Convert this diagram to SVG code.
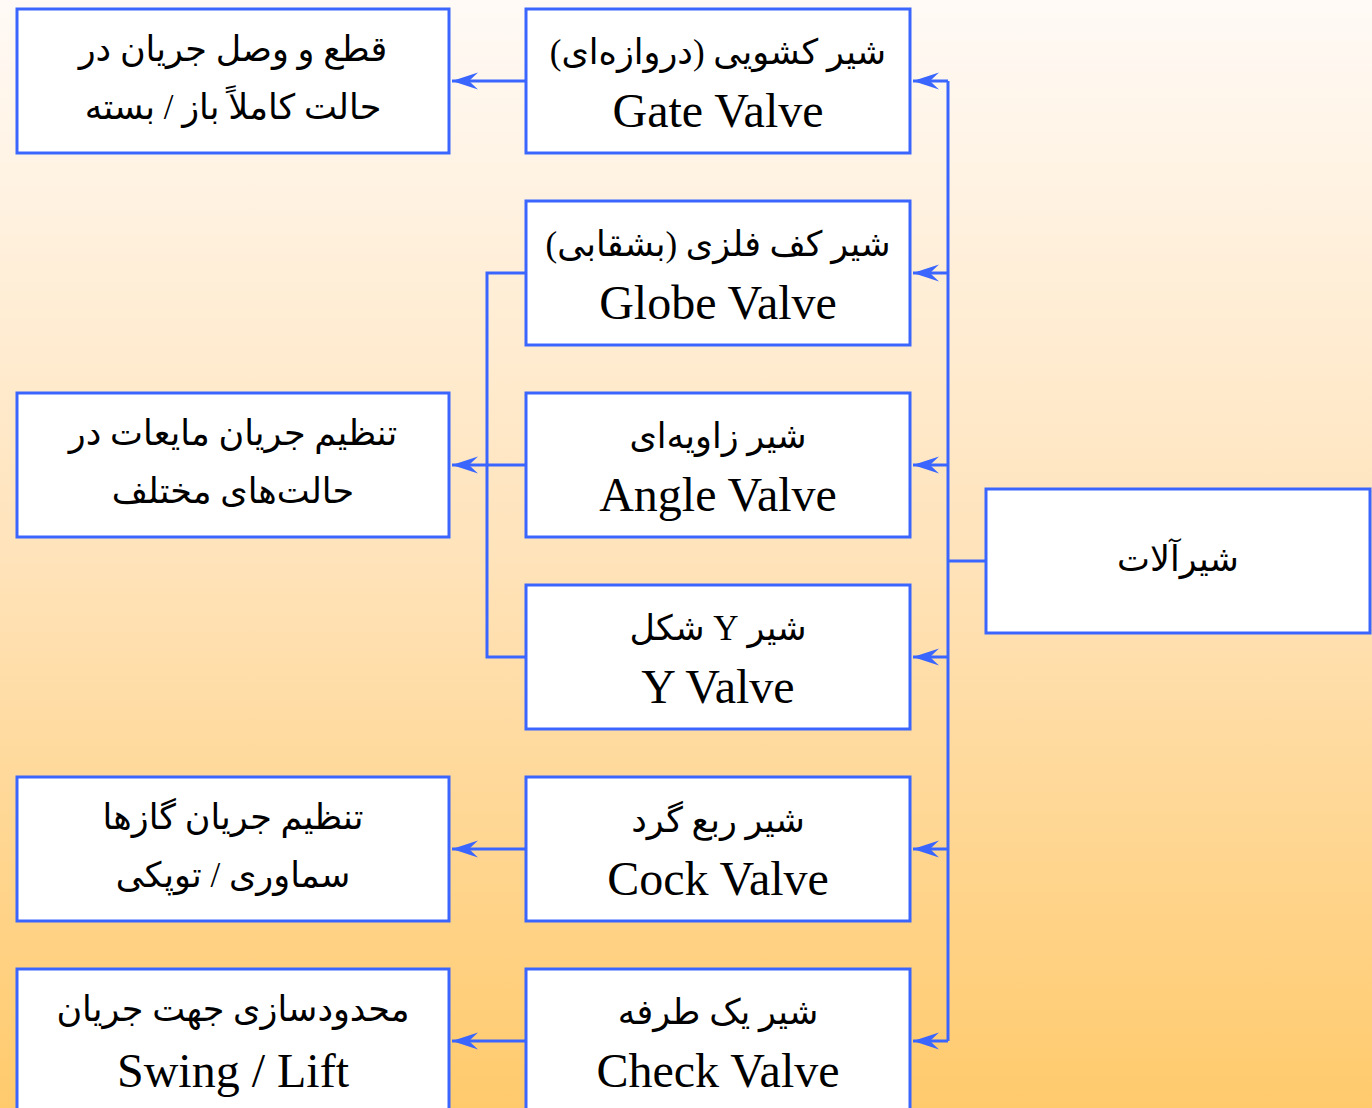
<svg xmlns="http://www.w3.org/2000/svg" width="1372" height="1108" viewBox="0 0 1372 1108">
<defs>
<linearGradient id="bg" x1="0" y1="0" x2="0" y2="1">
<stop offset="0" stop-color="#FFFAF6"/>
<stop offset="0.5" stop-color="#FFE3BA"/>
<stop offset="1" stop-color="#FFCA6C"/>
</linearGradient>
<marker id="ah" viewBox="0 -10 28 20" refX="26" refY="0" markerWidth="28" markerHeight="20" markerUnits="userSpaceOnUse" orient="auto">
<path d="M0,-8.5 L26,0 L0,8.5 L9,0 Z" fill="#3A66FF"/>
</marker>
<style>
.box{fill:#FFFFFF;stroke:#3A66FF;stroke-width:3}
.con{fill:none;stroke:#3A66FF;stroke-width:3}
.fa{font-family:"Liberation Serif","DejaVu Serif","DejaVu Sans",serif;font-size:35px;fill:#000;text-anchor:middle;direction:rtl}
.en{font-family:"Liberation Serif","Times New Roman",serif;font-size:48px;fill:#000;text-anchor:middle}
</style>
</defs>
<rect x="0" y="0" width="1372" height="1108" fill="url(#bg)"/>
<g id="connectors">
<path class="con" d="M986,561 H948"/>
<path class="con" d="M948,81 V1041"/>
<path class="con" d="M948,81 H913" marker-end="url(#ah)"/>
<path class="con" d="M948,273 H913" marker-end="url(#ah)"/>
<path class="con" d="M948,465 H913" marker-end="url(#ah)"/>
<path class="con" d="M948,657 H913" marker-end="url(#ah)"/>
<path class="con" d="M948,849 H913" marker-end="url(#ah)"/>
<path class="con" d="M948,1041 H913" marker-end="url(#ah)"/>
<path class="con" d="M526,81 H452" marker-end="url(#ah)"/>
<path class="con" d="M526,273 H487 V657 H526"/>
<path class="con" d="M526,465 H452" marker-end="url(#ah)"/>
<path class="con" d="M526,849 H452" marker-end="url(#ah)"/>
<path class="con" d="M526,1041 H452" marker-end="url(#ah)"/>
</g>
<g id="root">
<rect class="box" x="986" y="489" width="384" height="144"/>
<text class="fa" x="1178" y="571">شیرآلات</text>
</g>
<g id="gate">
<rect class="box" x="526" y="9" width="384" height="144"/>
<text class="fa" x="718" y="64">شیر کشویی (دروازه‌ای)</text>
<text class="en" x="718" y="127">Gate Valve</text>
</g>
<g id="globe">
<rect class="box" x="526" y="201" width="384" height="144"/>
<text class="fa" x="718" y="256">شیر کف فلزی (بشقابی)</text>
<text class="en" x="718" y="319">Globe Valve</text>
</g>
<g id="angle">
<rect class="box" x="526" y="393" width="384" height="144"/>
<text class="fa" x="718" y="448">شیر زاویه‌ای</text>
<text class="en" x="718" y="511">Angle Valve</text>
</g>
<g id="yvalve">
<rect class="box" x="526" y="585" width="384" height="144"/>
<text class="fa" x="718" y="640">شیر Y شکل</text>
<text class="en" x="718" y="703">Y Valve</text>
</g>
<g id="cock">
<rect class="box" x="526" y="777" width="384" height="144"/>
<text class="fa" x="718" y="832">شیر ربع گرد</text>
<text class="en" x="718" y="895">Cock Valve</text>
</g>
<g id="check">
<rect class="box" x="526" y="969" width="384" height="144"/>
<text class="fa" x="718" y="1024">شیر یک طرفه</text>
<text class="en" x="718" y="1087">Check Valve</text>
</g>
<g id="use-gate">
<rect class="box" x="17" y="9" width="432" height="144"/>
<text class="fa" x="233" y="61">قطع و وصل جریان در</text>
<text class="fa" x="233" y="119">حالت کاملاً باز / بسته</text>
</g>
<g id="use-globe">
<rect class="box" x="17" y="393" width="432" height="144"/>
<text class="fa" x="233" y="445">تنظیم جریان مایعات در</text>
<text class="fa" x="233" y="503">حالت‌های مختلف</text>
</g>
<g id="use-cock">
<rect class="box" x="17" y="777" width="432" height="144"/>
<text class="fa" x="233" y="829">تنظیم جریان گازها</text>
<text class="fa" x="233" y="887">سماوری / توپکی</text>
</g>
<g id="use-check">
<rect class="box" x="17" y="969" width="432" height="144"/>
<text class="fa" x="233" y="1021">محدودسازی جهت جریان</text>
<text class="en" x="233" y="1087">Swing / Lift</text>
</g>
</svg>
